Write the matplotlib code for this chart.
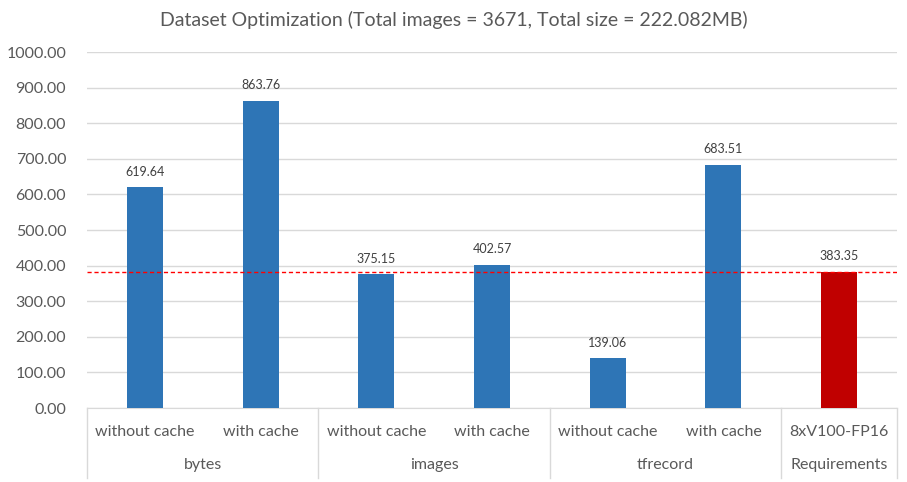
import matplotlib
matplotlib.use("Agg")
import matplotlib.pyplot as plt
import matplotlib.transforms as mtransforms

plt.rcParams['font.family'] = ['Lato', 'DejaVu Sans']

sub_labels = ["without cache", "with cache", "without cache", "with cache",
              "without cache", "with cache", "8xV100-FP16"]
groups = ["bytes", "images", "tfrecord", "Requirements"]
group_sizes = [2, 2, 2, 1]
values = [619.64, 863.76, 375.15, 402.57, 139.06, 683.51, 383.35]
colors = ["#2E75B6"] * 6 + ["#C00000"]
requirement = 383.35
yticks = [0, 100, 200, 300, 400, 500, 600, 700, 800, 900, 1000]
title = "Dataset Optimization (Total images = 3671, Total size = 222.082MB)"

W, H = 907, 482
fig = plt.figure(figsize=(W / 100, H / 100), dpi=100)
left, right, top, bottom = 87, 897, 52, 408
ax = fig.add_axes([left / W, (H - bottom) / H, (right - left) / W, (bottom - top) / H])

txt = "#595959"
grid = "#D9D9D9"
n = len(values)
x = list(range(n))
bars = ax.bar(x, values, width=0.31, color=colors, zorder=3)
for xi, v in zip(x, values):
    ax.annotate(f"{v:.2f}", (xi, v), xytext=(0, 7), textcoords="offset points",
                ha="center", va="bottom", fontsize=9, color="#404040")

ax.axhline(requirement, color="#FF0000", lw=1, ls=(0, (3, 2)), zorder=4)

ax.set_xlim(-0.5, n - 0.5)
ax.set_ylim(0, 1000)
ax.set_yticks(yticks)
ax.set_yticklabels([f"{t:.2f}" for t in yticks], fontsize=11.5, color=txt)
ax.tick_params(axis='y', length=0, pad=15)
ax.set_xticks([])
ax.yaxis.grid(True, color=grid, lw=1, zorder=0)
for s in ["top", "right", "left"]:
    ax.spines[s].set_visible(False)
ax.spines["bottom"].set_color(grid)

trans = mtransforms.blended_transform_factory(ax.transData, ax.transAxes)
ah = bottom - top
y1 = -24 / ah
y2 = -57 / ah
ysep = -70 / ah
for xi, lab in zip(x, sub_labels):
    ax.text(xi, y1, lab, transform=trans, ha="center", va="center", fontsize=11.5, color=txt)

start = 0
seps = [-0.5]
for g, sz in zip(groups, group_sizes):
    center = start + (sz - 1) / 2
    ax.text(center, y2, g, transform=trans, ha="center", va="center", fontsize=11.5, color=txt)
    start += sz
    seps.append(start - 0.5)
for s in seps:
    ax.plot([s, s], [0, ysep], transform=trans, color=grid, lw=1, clip_on=False)

fig.text(0.5, 1 - 20 / H, title, ha="center", va="center", fontsize=14, color=txt)

fig.savefig("out.png", dpi=100)
